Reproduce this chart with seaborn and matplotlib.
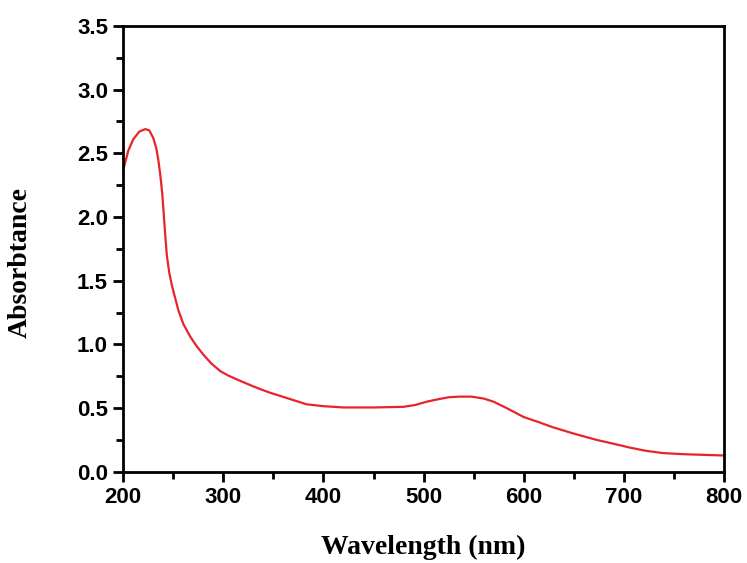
import pandas as pd
import matplotlib
matplotlib.use("Agg")
import matplotlib.pyplot as plt
import seaborn as sns
from matplotlib.ticker import MultipleLocator

# Values
wavelength = [200, 205, 210, 216, 222, 226, 230, 233, 235, 237, 239, 241, 243.5, 246, 249, 252, 255,
              260, 267, 273, 280, 288, 297, 305, 315, 330, 345, 363, 383, 400, 420, 450, 480,
              492, 503, 515, 525, 536, 548, 560, 570, 583, 600, 615, 629, 650, 673, 690, 706,
              722, 739, 760, 780, 800]
absorbance = [2.37, 2.52, 2.61, 2.67, 2.69, 2.68, 2.62, 2.54, 2.45, 2.33, 2.18, 1.96, 1.70, 1.56, 1.45, 1.36, 1.27,
              1.16, 1.06, 0.99, 0.92, 0.85, 0.79, 0.755, 0.72, 0.67, 0.625, 0.58, 0.53, 0.515, 0.505, 0.505, 0.51,
              0.525, 0.55, 0.57, 0.585, 0.59, 0.59, 0.575, 0.55, 0.50, 0.43, 0.39, 0.35, 0.30, 0.25, 0.22, 0.19,
              0.165, 0.147, 0.138, 0.133, 0.128]
x_ticks = [200, 300, 400, 500, 600, 700, 800]
y_ticks = [0.0, 0.5, 1.0, 1.5, 2.0, 2.5, 3.0, 3.5]

df = pd.DataFrame({"Wavelength": wavelength, "Absorbance": absorbance})

sns.set_style("white")
fig = plt.figure(figsize=(7.47, 5.63), dpi=100)
ax = fig.add_axes([0.165, 0.162, 0.804, 0.792])

sns.lineplot(data=df, x="Wavelength", y="Absorbance", ax=ax, color="#e8232a", linewidth=1.6)

ax.set_xticks(x_ticks)
ax.set_yticks(y_ticks)
ax.set_xticklabels([str(v) for v in x_ticks])
ax.set_yticklabels([f"{v:.1f}" for v in y_ticks])
ax.set_xlim(200, 800)
ax.set_ylim(0, 3.5)
ax.xaxis.set_minor_locator(MultipleLocator(50))
ax.yaxis.set_minor_locator(MultipleLocator(0.25))
ax.tick_params(which="both", direction="out", left=True, bottom=True, top=False, right=False,
               width=2, color="black", labelcolor="black")
ax.tick_params(which="major", length=7, pad=4)
ax.tick_params(which="minor", length=5)
for sp in ax.spines.values():
    sp.set_linewidth(2)
    sp.set_color("black")

for lab in ax.get_xticklabels() + ax.get_yticklabels():
    lab.set_fontfamily("Liberation Sans")
    lab.set_fontweight("bold")
    lab.set_fontsize(16)

ax.set_xlabel("Wavelength (nm)", fontfamily="Liberation Serif", fontweight="bold", fontsize=20,
              labelpad=19, color="black")
ax.set_ylabel("Absorbtance", fontfamily="Liberation Serif", fontweight="bold", fontsize=20,
              color="black")
ax.yaxis.set_label_coords(-0.15, 0.47)

fig.savefig("out.png", dpi=100)
